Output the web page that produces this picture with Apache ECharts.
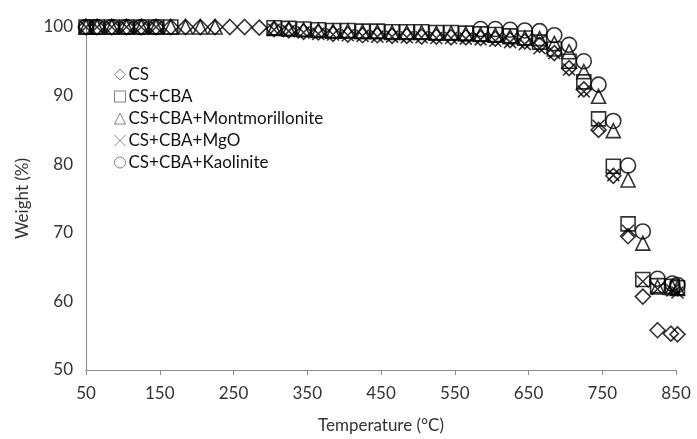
<!DOCTYPE html>
<html>
<head>
<meta charset="utf-8">
<script src="https://cdn.jsdelivr.net/npm/echarts@6/dist/echarts.min.js"></script>
<style>
html,body{margin:0;padding:0;background:#fff;}
#main{width:697px;height:439px;}
</style>
</head>
<body>
<div id="main"></div>
<script>
// temperature (°C) and weight (%) per sample
var tCS = [50,65,85,105,125,145,165,185,205,225,245,265,285,305,325,345,365,385,405,425,445,465,485,505,525,545,565,585,605,625,645,665,685,705,725,745,765,785,805,825,843,852];
var wCS = [100,100,100,100,100,100,100,100,100,100,100,100,99.9,99.7,99.5,99.3,99.2,99.0,98.9,98.8,98.8,98.7,98.7,98.6,98.6,98.5,98.5,98.4,98.3,98.1,97.9,97.4,96.2,94.0,90.9,85.0,78.3,69.5,60.7,55.8,55.3,55.2];

var tCBA = [50,65,85,105,125,145,165,305,325,345,365,385,405,425,445,465,485,505,525,545,565,585,605,625,645,665,685,705,725,745,765,785,805,825,845,852];
var wCBA = [100,100,100,100,100,100,100,99.9,99.8,99.7,99.6,99.5,99.5,99.4,99.4,99.3,99.3,99.3,99.2,99.2,99.1,99.0,98.9,98.7,98.4,97.8,96.8,95.0,92.0,86.6,79.7,71.3,63.2,62.3,62.2,62.0];

var tMont = [50,65,85,105,125,145,165,185,205,225,305,325,345,365,385,405,425,445,465,485,505,525,545,565,585,605,625,645,665,685,705,725,745,765,785,805,825,845,852];
var wMont = [100,100,100,100,100,100,100,100,100,100,99.8,99.7,99.6,99.5,99.4,99.4,99.3,99.3,99.2,99.2,99.2,99.1,99.1,99.0,98.9,98.8,98.6,98.4,98.3,97.6,96.4,93.5,89.9,84.9,77.7,68.5,62.1,62.0,61.9];

var tMgO = [50,65,85,105,125,145,305,325,345,365,385,405,425,445,465,485,505,525,545,565,585,605,625,645,665,685,705,725,745,765,785,805,825,845,852];
var wMgO = [100,100,100,100,100,100,99.6,99.4,99.2,99.0,98.9,98.8,98.7,98.6,98.6,98.5,98.5,98.4,98.4,98.3,98.2,98.0,97.8,97.5,96.9,96.2,93.8,90.6,85.6,78.4,70.3,62.9,61.8,61.6,61.3];

var tKao = [50,65,85,105,125,145,585,605,625,645,665,685,705,725,745,765,785,805,825,845,852];
var wKao = [100,100,100,100,100,100,99.7,99.7,99.6,99.5,99.4,98.8,97.4,95.0,91.6,86.3,79.8,70.2,63.3,62.6,62.4];

var names = ['CS', 'CS+CBA', 'CS+CBA+Montmorillonite', 'CS+CBA+MgO', 'CS+CBA+Kaolinite'];

function pairs(t, w) {
    var out = [];
    for (var i = 0; i < t.length; i++) out.push([t[i], w[i]]);
    return out;
}

function mk(name, t, w, symbol, size) {
    return {
        name: name,
        type: 'scatter',
        symbol: symbol,
        symbolSize: size,
        clip: false,
        data: pairs(t, w),
        itemStyle: { color: 'rgba(0,0,0,0)', borderColor: '#000', borderWidth: 1.6 }
    };
}

var crossPath = 'path://M0,0L10,10M10,0L0,10';
var font = 'Lato, "Open Sans", sans-serif';
var legendStyle = { color: 'rgba(0,0,0,0)', borderColor: '#666', borderWidth: 1 };

var myChart = echarts.init(document.getElementById('main'));
var option = {
    backgroundColor: '#fff',
    animation: false,
    grid: { left: 86, right: 21, top: 27, bottom: 65 },
    legend: {
        orient: 'vertical',
        left: 109,
        top: 61,
        itemWidth: 11,
        itemHeight: 11,
        itemGap: 5,
        textStyle: { fontFamily: font, fontSize: 17, color: '#111', lineHeight: 15, padding: [0, 0, 0, -2] },
        data: names.map(function (n) { return { name: n, itemStyle: legendStyle }; })
    },
    xAxis: {
        type: 'value',
        min: 50,
        max: 850,
        interval: 100,
        name: 'Temperature (°C)',
        nameLocation: 'middle',
        nameGap: 47,
        nameTextStyle: { fontFamily: font, fontSize: 17, color: '#333' },
        axisLine: { lineStyle: { color: '#8a8a8a', width: 1 } },
        axisTick: { show: true, length: 5, lineStyle: { color: '#8a8a8a' } },
        axisLabel: { fontFamily: font, fontSize: 17, color: '#333', margin: 15 },
        splitLine: { show: false }
    },
    yAxis: {
        type: 'value',
        min: 50,
        max: 100,
        interval: 10,
        name: 'Weight (%)',
        nameLocation: 'middle',
        nameGap: 55,
        nameTextStyle: { fontFamily: font, fontSize: 17, color: '#333' },
        axisLine: { show: true, lineStyle: { color: '#8a8a8a', width: 1 } },
        axisTick: { show: false },
        axisLabel: { fontFamily: font, fontSize: 17, color: '#333', margin: 13 },
        splitLine: { show: false }
    },
    series: [
        mk(names[0], tCS, wCS, 'diamond', 15),
        mk(names[1], tCBA, wCBA, 'rect', 14),
        mk(names[2], tMont, wMont, 'triangle', 14),
        mk(names[3], tMgO, wMgO, crossPath, 12),
        mk(names[4], tKao, wKao, 'circle', 15)
    ]
};
myChart.setOption(option);
</script>
</body>
</html>
